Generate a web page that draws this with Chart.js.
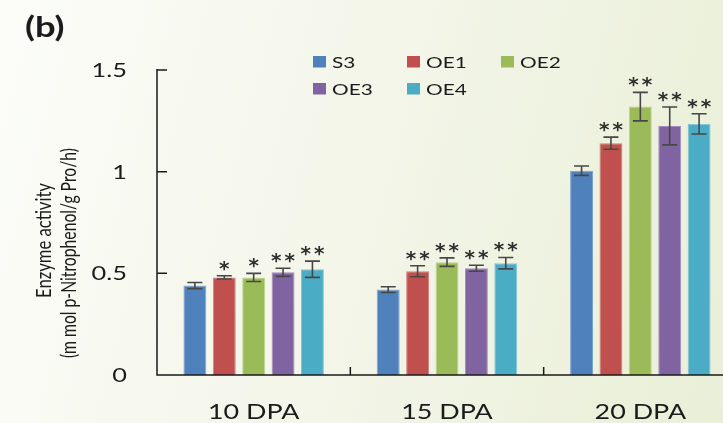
<!DOCTYPE html>
<html>
<head>
<meta charset="utf-8">
<script src="https://cdn.jsdelivr.net/npm/chart.js@4.4.1/dist/chart.umd.min.js"></script>
<style>
  html, body { margin: 0; padding: 0; width: 723px; height: 423px; overflow: hidden; }
  body { background: linear-gradient(105deg, #fcfdf9 0%, #f4f6ea 45%, #e9efd7 100%); }
  #wrap { position: relative; width: 737px; height: 423px; }
</style>
</head>
<body>
<div id="wrap"><canvas id="c" width="737" height="423"></canvas></div>
<script>
// Enzyme activity at three developmental stages
const categories = ['10 DPA', '15 DPA', '20 DPA'];
const seriesNames = ['S3', 'OE1', 'OE2', 'OE3', 'OE4'];
const seriesColors = ['#4f81bd', '#c0504d', '#9bbb59', '#8064a2', '#4bacc6'];
const seriesBorders = ['#7fa2d2', '#d6807d', '#bcd48e', '#a28cbf', '#82c6d8'];

// mean values per line, one entry per stage
const valS3  = [0.44, 0.42, 1.005];
const valOE1 = [0.48, 0.51, 1.14];
const valOE2 = [0.48, 0.555, 1.32];
const valOE3 = [0.505, 0.525, 1.225];
const valOE4 = [0.52, 0.55, 1.235];

// standard errors
const errS3  = [0.015, 0.014, 0.023];
const errOE1 = [0.008, 0.027, 0.03];
const errOE2 = [0.02, 0.021, 0.07];
const errOE3 = [0.02, 0.015, 0.093];
const errOE4 = [0.04, 0.028, 0.05];

// significance marks
const sigS3  = ['', '', ''];
const sigOE1 = ['*', '**', '**'];
const sigOE2 = ['*', '**', '**'];
const sigOE3 = ['**', '**', '**'];
const sigOE4 = ['**', '**', '**'];

const yTicks = [0, 0.5, 1, 1.5];
const yTitle1 = 'Enzyme activity';
const yTitle2 = '(m mol p-Nitrophenol/g Pro/h)';

const values = [valS3, valOE1, valOE2, valOE3, valOE4];
const errors = [errS3, errOE1, errOE2, errOE3, errOE4];
const sigs = [sigS3, sigOE1, sigOE2, sigOE3, sigOE4];

const FONT = 'Lato, "Open Sans", sans-serif';
const INK = '#1b1b1b';
const SX = 1.3; // text is set wide

// draw text widened horizontally; align is 'left' | 'center' | 'right', y is the baseline
function wideText(ctx, txt, x, y, font, align, sx) {
  ctx.save();
  ctx.font = font;
  ctx.textAlign = 'left';
  ctx.textBaseline = 'alphabetic';
  const w = ctx.measureText(txt).width * sx;
  let x0 = x;
  if (align === 'center') x0 = x - w / 2;
  if (align === 'right') x0 = x - w;
  ctx.translate(x0, y);
  ctx.scale(sx, 1);
  ctx.fillText(txt, 0, 0);
  ctx.restore();
}

// vertical title line: spans screen y from yTop to yBot, baseline at screen x = bx
function verticalText(ctx, txt, bx, yTop, yBot, family, thick) {
  ctx.save();
  ctx.font = '20px ' + family;
  const w20 = ctx.measureText(txt).width;
  const size = 20 * (yBot - yTop) / w20;
  ctx.font = size.toFixed(2) + 'px ' + family;
  ctx.textAlign = 'center';
  ctx.textBaseline = 'alphabetic';
  ctx.translate(bx, (yTop + yBot) / 2);
  ctx.rotate(-Math.PI / 2);
  ctx.scale(1, thick);
  ctx.fillText(txt, 0, 0);
  ctx.restore();
}

const decorations = {
  id: 'decorations',
  afterDatasetsDraw(chart) {
    const ctx = chart.ctx;
    const ys = chart.scales.y, xs = chart.scales.x;
    const area = chart.chartArea;
    ctx.save();
    ctx.fillStyle = INK;

    // error bars and significance stars
    chart.data.datasets.forEach((ds, di) => {
      const meta = chart.getDatasetMeta(di);
      meta.data.forEach((bar, i) => {
        const v = values[di][i], e = errors[di][i];
        const top = ys.getPixelForValue(v + e);
        const bot = ys.getPixelForValue(v - e);
        const x = bar.x;
        ctx.strokeStyle = '#474747';
        ctx.lineWidth = 1.6;
        ctx.beginPath();
        ctx.moveTo(x, top); ctx.lineTo(x, bot);
        ctx.moveTo(x - 7.5, top); ctx.lineTo(x + 7.5, top);
        ctx.moveTo(x - 7.5, bot); ctx.lineTo(x + 7.5, bot);
        ctx.stroke();
        const s = sigs[di][i];
        if (s) {
          ctx.save();
          ctx.fillStyle = '#2e2e2e';
          ctx.font = 'bold 20px "DejaVu Sans", sans-serif';
          ctx.textAlign = 'center';
          ctx.textBaseline = 'alphabetic';
          const m = ctx.measureText('*');
          const by = top - 5 - m.actualBoundingBoxDescent;
          const pitch = 13.5;
          const n = s.length;
          for (let k = 0; k < n; k++) {
            const cx = x + (k - (n - 1) / 2) * pitch;
            ctx.fillText('*', cx, by);
          }
          ctx.restore();
        }
      });
    });

    // axis lines
    ctx.strokeStyle = '#1a1a1a';
    ctx.lineWidth = 1.5;
    ctx.beginPath();
    ctx.moveTo(area.left, area.top - 1);
    ctx.lineTo(area.left, area.bottom);
    ctx.lineTo(area.right, area.bottom);
    // inward ticks on the value axis
    yTicks.forEach(t => {
      const py = ys.getPixelForValue(t);
      ctx.moveTo(area.left, py);
      ctx.lineTo(area.left + 10, py);
    });
    // inward ticks between categories
    for (let i = 0; i < categories.length; i++) {
      const px = (xs.getPixelForValue(i) + xs.getPixelForValue(i + 1)) / 2;
      ctx.moveTo(px, area.bottom);
      ctx.lineTo(px, area.bottom - 8);
    }
    ctx.stroke();

    // value axis labels
    const yFont = '19.5px ' + FONT;
    yTicks.forEach(t => {
      const py = ys.getPixelForValue(t);
      wideText(ctx, String(t), area.left - 30, py + 7, yFont, 'right', SX);
    });

    // category labels
    const xFont = '21.5px ' + FONT;
    categories.forEach((c, i) => {
      wideText(ctx, c, xs.getPixelForValue(i), 419, xFont, 'center', 1.25);
    });

    // panel label
    wideText(ctx, '(b)', 25, 37, 'bold 28px ' + FONT, 'left', SX);

    // value axis title, two lines
    verticalText(ctx, yTitle1, 51, 183, 298, FONT, SX);
    verticalText(ctx, yTitle2, 76, 148, 358, FONT, SX);

    // legend, three columns by two rows
    const colX = [313, 407, 501];
    const rowBase = [67.5, 94.5];
    const lFont = '16px ' + FONT;
    seriesNames.forEach((name, k) => {
      const cx = colX[k % 3], by = rowBase[Math.floor(k / 3)];
      ctx.fillStyle = seriesColors[k];
      ctx.fillRect(cx, by - 11.5, 13, 11.5);
      ctx.fillStyle = INK;
      wideText(ctx, name, cx + 19, by, lFont, 'left', SX);
    });

    ctx.restore();
  }
};

new Chart(document.getElementById('c'), {
  type: 'bar',
  data: {
    labels: categories,
    datasets: seriesNames.map((n, k) => ({
      label: n,
      data: values[k],
      backgroundColor: seriesColors[k],
      borderColor: seriesBorders[k],
      borderWidth: 1,
      categoryPercentage: 0.76,
      barPercentage: 0.78
    }))
  },
  options: {
    responsive: false,
    animation: false,
    layout: { padding: { top: 70, right: 0, left: 0, bottom: 0 } },
    plugins: { legend: { display: false }, tooltip: { enabled: false }, title: { display: false } },
    scales: {
      x: {
        grid: { display: false, drawTicks: false },
        border: { display: false },
        ticks: { display: false },
        afterFit(s) { s.height = 48; }
      },
      y: {
        min: 0, max: 1.5,
        afterBuildTicks(s) { s.ticks = yTicks.map(v => ({ value: v })); },
        grid: { display: false, drawTicks: false },
        border: { display: false },
        ticks: { display: false },
        afterFit(s) { s.width = 157; }
      }
    }
  },
  plugins: [decorations]
});
</script>
</body>
</html>
